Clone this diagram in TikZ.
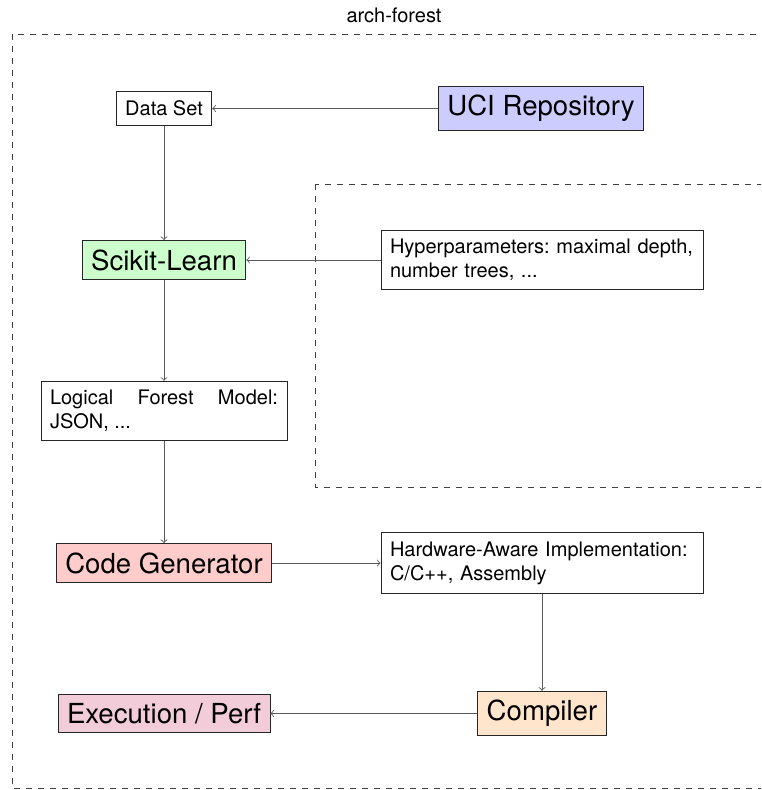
\documentclass[tikz,border=0pt]{standalone}
\usepackage{fontspec}
\setmainfont{TeX Gyre Heros}
\begin{document}
\begin{tikzpicture}[
        x=0.5pt, y=-0.5pt,
        txtbox/.style={draw=black!85, fill=white, inner sep=4.5pt, font=\fontsize{10}{12}\selectfont\frenchspacing},
        note/.style={txtbox, text width=#1, align=justify},
        stage/.style={draw=black!85, inner sep=4.5pt, font=\fontsize{13.8}{16}\selectfont},
        frame/.style={draw=black!75, dashed},
        link/.style={->, draw=black!65},
        >=to
    ]
        \clip (0,0) rectangle (761,790);

        % Frames
        \draw[frame] (12,34) rectangle (776,788);
        \node[font=\fontsize{10}{12}\selectfont] (title) at (394,15) {arch-forest};
        \draw[frame] (315,184) rectangle (776,487);

        % Training path
        \node[txtbox] (data) at (164,108.5) {Data Set};
        \node[stage, fill=blue!20] (uci) at (541,108.5) {UCI Repository};
        \node[stage, fill=green!20] (sklearn) at (164,260) {Scikit-Learn};
        \node[note=152pt, align=left] (hyper) at (542,260) {Hyperparameters: maximal depth, number trees, ...};
        \node[note=114pt] (model) at (164,411) {Logical Forest Model: JSON, ...};

        % Code generation path
        \node[stage, fill=red!20] (codegen) at (164,563) {Code Generator};
        \node[note=152pt, align=left] (hwimpl) at (542,563) {Hardware-Aware Implementation: C/C++, Assembly};
        \node[stage, fill=orange!20] (compiler) at (542,713.5) {Compiler};
        \node[stage, fill=purple!20] (exec) at (164,713.5) {Execution / Perf};

        % Connections
        \draw[link] (uci) -- (data);
        \draw[link] (data) -- (sklearn);
        \draw[link] (hyper) -- (sklearn);
        \draw[link] (sklearn) -- (model);
        \draw[link] (model) -- (codegen);
        \draw[link] (codegen) -- (hwimpl);
        \draw[link] (hwimpl) -- (compiler);
        \draw[link] (compiler) -- (exec);
    \end{tikzpicture}
\end{document}
